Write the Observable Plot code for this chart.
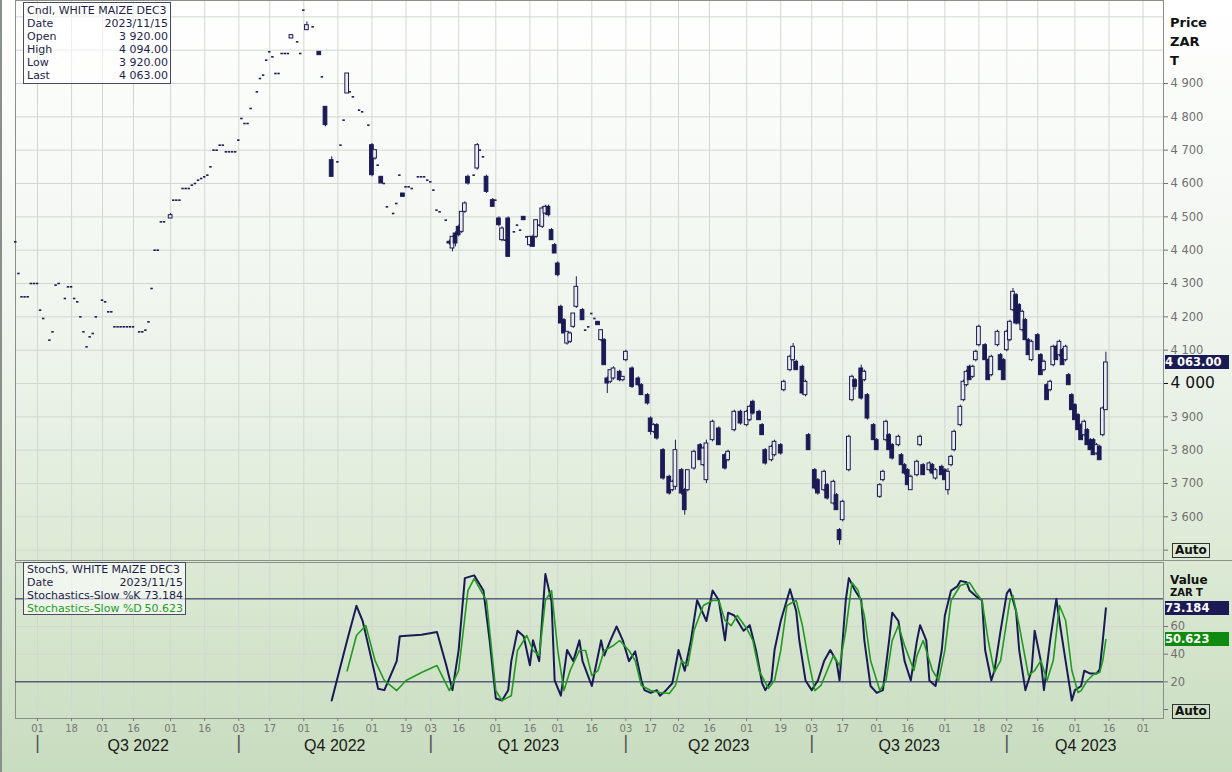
<!DOCTYPE html>
<html><head><meta charset="utf-8">
<script src="https://cdn.jsdelivr.net/npm/d3@7"></script>
<script src="https://cdn.jsdelivr.net/npm/@observablehq/plot@0.6"></script>
<style>
html,body{margin:0;padding:0;}
body{width:1232px;height:772px;overflow:hidden;background:linear-gradient(to bottom,#ffffff 0%,#eef4ec 45%,#dcead5 72%,#c8dcbf 100%);font-family:"DejaVu Sans",sans-serif;}
#wrap{position:relative;width:1232px;height:772px;}
#wrap svg{display:block;}
.box{position:absolute;border:1px solid #4a4a62;background:rgba(255,255,255,0.6);font-size:11px;line-height:13px;color:#1e1e4a;padding:0 2px 0 3px;box-sizing:border-box;}
.row{display:flex;justify-content:space-between;white-space:nowrap;}
.tag{position:absolute;left:1165px;width:64px;height:14px;color:#fff;font-weight:bold;font-size:11.5px;line-height:14px;white-space:nowrap;overflow:hidden;}
.lab{position:absolute;left:1170px;font-weight:bold;font-size:13px;line-height:19px;color:#111;}
.auto{position:absolute;border:1px solid #333;font-weight:bold;font-size:12px;line-height:13px;padding:0 2px;color:#111;}
.line{position:absolute;background:#8a8f8a;}
</style></head><body><div id="wrap"></div>
<script>
const NAVY = "#1a1a55";
const GREEN = "#229922";

// [day, open, high, low, close]  or [day, price] when open=high=low=close
const candles = [
[-7,4425],[-6,4330],[-5,4260],[-4,4260],[-3,4260],[-2,4300],[-1,4300],[0,4300],[1,4220],[2,4195],[4,4130],[5,4155],[6,4295],[7,4300],[9,4255],[10,4290],[11,4290],[12,4255],[13,4245],[14,4200],[15,4155],[16,4110],[17,4140],[18,4150],[19,4200],[21,4250],[22,4245],[23,4215],[24,4215],[25,4170],[26,4170],[27,4170],[28,4170],[29,4170],[30,4170],[31,4170],[33,4155],[34,4155],[35,4160],[36,4185],[37,4285],[38,4400],[39,4400],[40,4485],[41,4485],[43,4495,4510,4495,4505],[44,4550],[45,4550],[46,4550],[47,4585],[48,4585],[49,4585],[50,4595],[51,4600],[52,4610],[53,4615],[54,4620],[55,4625],[56,4650],[57,4700],[58,4700],[59,4715],[60,4715],[61,4695],[62,4695],[63,4695],[64,4695],[65,4730],[66,4795],[67,4780],[68,4780],[69,4825],[71,4875],[72,4915],[73,4925],[74,4970],[75,4995],[76,4980],[77,4930],[78,4930],[79,4990],[80,4990],[81,4990],[82,5035,5045,5035,5045],[84,5025],[85,4990],[86,5120],[87,5060,5085,5060,5075],[89,5070],[91,4995,4995,4985,4985],[92,4920],[93,4830,4830,4770,4775],[95,4670,4680,4620,4620],[97,4665],[98,4715],[99,4790],[100,4870,4930,4870,4930],[101,4875],[102,4860],[104,4820],[105,4815],[107,4775],[108,4715,4720,4620,4625],[109,4675,4700,4670,4700],[110,4655],[111,4620,4620,4600,4600],[112,4600],[113,4530],[115,4510],[116,4540],[117,4625],[118,4570,4570,4560,4560],[119,4590],[120,4590],[121,4585],[123,4620],[124,4620],[125,4620],[126,4610],[127,4605],[128,4580],[129,4520],[130,4515],[132,4490],[133,4425,4430,4415,4420],[134,4405,4440,4395,4440],[135,4450,4455,4410,4420],[136,4470,4475,4440,4445],[137,4455,4515,4450,4515],[138,4515,4545,4510,4540],[139,4620,4625,4595,4600],[141,4625],[142,4645,4720,4640,4715],[143,4700],[144,4680],[145,4620,4625,4570,4575],[147,4550,4555,4530,4530],[148,4550],[149,4495,4500,4470,4475],[150,4430,4470,4425,4465],[151,4430],[152,4495,4500,4380,4380],[154,4455],[155,4475],[156,4460],[157,4500,4500,4490,4490],[158,4440],[159,4415,4440,4410,4440],[160,4440,4445,4410,4410],[161,4440,4490,4435,4490],[162,4475],[163,4470,4530,4465,4525],[164,4510,4535,4505,4530],[165,4530,4535,4500,4505],[166,4460,4465,4430,4430],[167,4415,4420,4390,4390],[168,4360,4365,4320,4325],[169,4230,4235,4180,4180],[170,4190,4195,4150,4150],[171,4120,4155,4115,4155],[172,4125,4155,4120,4150],[173,4170,4210,4165,4210],[174,4230,4320,4225,4290],[176,4220,4225,4190,4190],[177,4160],[178,4170],[179,4210],[180,4195],[181,4185,4185,4175,4175],[182,4130,4160,4125,4160],[183,4130,4135,4055,4055],[184,4015,4020,3970,4000],[185,4005,4040,4000,4040],
[186,4015,4050,4010,4045],[188,4035,4040,4005,4010],[189,4010,4020,4005,4020],[190,4070,4100,4065,4095],[192,4045,4050,3985,3990],[194,4015,4020,3990,3995],[195,3995,4000,3965,3965],[197,3965,3970,3935,3940],[198,3895,3900,3845,3855],[199,3855,3880,3850,3875],[200,3875,3880,3830,3835],[202,3800,3805,3710,3715],[204,3720,3725,3665,3670],[205,3680,3710,3675,3705],[206,3690,3830,3680,3800],[208,3740,3745,3665,3670],[209,3680,3685,3605,3620],[210,3680,3740,3675,3740],[212,3745,3800,3740,3795],[214,3815,3820,3770,3770],[215,3755,3810,3750,3805],[216,3710,3830,3700,3820],[218,3830,3890,3825,3885],[220,3865,3870,3815,3815],[222,3785,3790,3740,3745],[223,3770,3800,3765,3795],[225,3860,3920,3855,3915],[227,3915,3920,3875,3880],[229,3875,3920,3870,3915],[230,3890,3935,3885,3930],[231,3945,3950,3905,3910],[233,3915,3920,3890,3890],[234,3875,3880,3845,3845],[235,3800,3805,3755,3760],[237,3770,3815,3765,3810],[238,3785,3830,3780,3825],[240,3815,3820,3785,3790],[241,3980,4010,3975,4005],[243,4040,4085,4035,4080],[244,4070,4120,4065,4110],[245,4065,4070,4040,4040],[247,4050,4055,3965,3970],[248,3965,4010,3960,4005],[249,3845,3850,3800,3800],[251,3740,3745,3680,3685],[252,3710,3715,3665,3670],[254,3680,3740,3675,3735],[255,3695,3700,3650,3655],[257,3640,3710,3635,3705],[258,3665,3670,3620,3620],[259,3560,3565,3515,3530],[260,3590,3650,3585,3645],[262,3740,3845,3735,3840],[263,3950,4025,3945,4020],[264,4010,4015,3980,3990],[266,4045,4055,3950,3955],[267,4010,4040,4005,4035],[268,3965,3970,3890,3895],[270,3875,3880,3830,3830],[271,3830,3835,3800,3800],[272,3660,3700,3655,3695],[273,3710,3740,3705,3735],[274,3830,3890,3825,3885],[275,3845,3850,3800,3800],[276,3815,3820,3770,3775],[278,3815,3845,3810,3840],[279,3785,3790,3755,3755],[280,3755,3760,3725,3730],[281,3740,3745,3695,3695],[282,3680,3725,3680,3720],[284,3725,3770,3720,3765],[285,3815,3845,3810,3840],[286,3755,3760,3725,3725],[288,3740,3765,3735,3760],[289,3755,3760,3725,3730],[290,3715,3745,3710,3740],[292,3750,3755,3725,3725],[293,3740,3745,3710,3710],[294,3680,3745,3665,3735],[295,3755,3785,3750,3780],[296,3800,3860,3795,3855],[298,3875,3935,3870,3930],[299,3950,4010,3945,4005],[300,3995,4040,3990,4035],[301,4050,4055,4010,4010],[302,4020,4055,4015,4050],[303,4070,4100,4065,4095],[304,4115,4175,4110,4170],[306,4115,4120,4070,4070],[307,4070,4075,4010,4010],[308,4025,4085,4020,4080],[310,4115,4160,4110,4155],[311,4085,4090,4040,4040],[312,4070,4075,4010,4010],[313,4100,4160,4095,4155],[314,4130,4190,4125,4185],[315,4220,4285,4215,4275],[316,4265,4270,4175,4180],[317,4235,4240,4175,4180],[318,4160,4220,4155,4215],[319,4190,4195,4130,4130],[320,4130,4135,4085,4085],[321,4070,4130,4065,4125],[323,4145,4150,4100,4100],[324,4085,4090,4025,4025],[325,4040,4070,4035,4065],[326,3995,4000,3950,3950],[327,3980,4010,3975,4005],[328,4055,4115,4050,4110],[329,4110,4115,4070,4070],[330,4085,4130,4080,4125],[331,4100,4105,4055,4055],[332,4070,4115,4065,4110],[333,4025,4030,3995,3995],[334,3965,3970,3920,3920],[335,3935,3940,3890,3890],[336,3905,3910,3860,3860],[337,3875,3880,3830,3830],[338,3845,3890,3840,3885],[339,3860,3865,3815,3815],[340,3830,3835,3800,3800],[341,3830,3835,3785,3785],[342,3790,3820,3785,3815],[343,3810,3815,3770,3770],[344,3845,3930,3840,3925],[345,3920,4094,3920,4063]
];

// Stochastics-Slow %K and %D: [day, value]
const stochK = [[95,6.5],[100,50],[103,75],[105,64],[108,35],[110,15],[112,14],[116,35],[117,53],[124,54],[129,56],[132,32],[134,14],[136,43],[138,95],[141,97],[144,86],[146,50],[148,8],[150,6.5],[152,14],[153,35],[155,57],[157,53],[159,32],[160,50],[162,35],[164,98],[166,78],[167,21],[169,10],[171,43],[173,35],[175,50],[176,35],[179,17],[180,28],[182,50],[183,39],[185,50],[187,60],[189,50],[191,35],[193,42],[195,21],[196,14],[198,12],[200,14],[201,10],[203,14],[205,19],[207,43],[209,28],[211,50],[213,79],[216,64],[218,86],[220,79],[222,50],[223,70],[225,68],[228,57],[230,61],[232,43],[234,19],[235,14],[237,21],[238,43],[240,64],[243,87],[245,71],[246,50],[248,21],[250,14],[252,21],[254,35],[256,43],[258,35],[259,21],[261,79],[262,95],[264,86],[266,79],[267,50],[269,17],[271,12],[273,14],[275,50],[276,70],[278,64],[280,35],[282,21],[284,50],[285,61],[287,50],[288,21],[290,17],[292,43],[293,68],[295,86],[297,89],[298,93],[300,92],[301,86],[303,82],[305,79],[306,43],[308,21],[309,28],[311,57],[313,84],[314,87],[316,71],[317,43],[319,14],[321,28],[322,57],[324,35],[325,14],[327,50],[329,80],[330,64],[332,35],[334,6.5],[335,14],[337,17],[338,28],[340,26],[342,26],[343,29],[344,50],[345,73.184]];
const stochD = [[100,28],[103,53.5],[106,60.7],[109,35.4],[112,21],[116,13.7],[119,21],[124,26.8],[129,31.8],[133,13.7],[136,28.2],[139,86],[141,94.7],[145,78.8],[148,13.7],[150,6.5],[153,10],[155,42.7],[158,53.5],[160,42.7],[162,39],[164,78.8],[166,86],[168,42.7],[170,13.7],[172,28.2],[175,42.7],[177,42.7],[179,24.6],[181,28.2],[183,42.7],[186,46.3],[188,49.9],[191,42.7],[193,35.4],[195,17.4],[198,13.7],[201,12.3],[204,11.6],[206,17.4],[208,35.4],[210,31.8],[212,57.1],[215,75.2],[218,78.8],[220,78.8],[222,64.4],[224,60.7],[226,68],[229,58.6],[231,49.9],[233,28.2],[236,15.2],[238,21],[240,42.7],[242,75.2],[245,78.8],[247,60.7],[249,35.4],[251,13.7],[253,17.4],[255,28.2],[257,39],[259,31.8],[261,57.1],[263,91.8],[265,86],[267,68],[269,35.4],[272,13.7],[274,21],[276,49.9],[278,60.7],[280,46.3],[283,28.2],[284,39],[286,49.9],[289,28.2],[291,21],[293,42.7],[295,78.8],[298,89.7],[301,91.8],[303,84.6],[305,78.8],[307,49.9],[309,26.8],[311,35.4],[314,78.8],[315,82.4],[317,60.7],[320,24.6],[322,28.2],[324,35.4],[326,21],[328,35.4],[330,75.2],[332,64.4],[334,28.2],[336,12.3],[337,13.7],[339,21],[341,25.3],[343,26.8],[344,35.4],[345,50.623]];

// axis ticks (trading-day index from 2022/07/01)
const tickDays   = [0,11,21,31,43,54,65,75,86,97,108,119,127,136,148,159,168,179,190,198,207,217,229,240,250,260,271,281,293,304,313,323,335,346,357];
const tickLabels = ["01","18","01","16","01","16","03","17","01","16","01","19","03","16","01","16","01","16","03","17","02","16","01","19","03","17","01","16","01","18","02","16","01","16","01"];
const quarterStart = [0,65,127,190,250,313];
const quarterEnd   = [65,127,190,250,313,364];
const quarterLabels = ["Q3 2022","Q4 2022","Q1 2023","Q2 2023","Q3 2023","Q4 2023"];
const priceTicks = [3500,3600,3700,3800,3900,4000,4100,4200,4300,4400,4500,4600,4700,4800,4900,5000,5100];
const stochTicks = [0,20,40,60];
const stochBands = [20,80];

const last = {date:"2023/11/15", open:3920, high:4094, low:3920, close:4063, k:73.184, d:50.623};

const rows = candles.map(r => r.length === 2
  ? {d:r[0], o:r[1], h:r[1], l:r[1], c:r[1]}
  : {d:r[0], o:r[1], h:r[2], l:r[3], c:r[4]});
const dayLabel = new Map(tickDays.map((d,i)=>[d,tickLabels[i]]));
const qMid = quarterStart.map((s,i)=>(s+quarterEnd[i])/2);
const qLabel = new Map(qMid.map((m,i)=>[m,quarterLabels[i]]));
const fmt = d3.formatLocale({thousands:" ", grouping:[3], decimal:"."}).format(",");
const xDomain = [-7.1, 363.6];
const GRID = "#d2d8d1";

const upper = Plot.plot({
  width:1232, height:560, marginLeft:15, marginRight:69, marginTop:0, marginBottom:0,
  style:{background:"transparent", fontFamily:"DejaVu Sans", overflow:"visible"},
  x:{domain:xDomain, axis:null},
  y:{domain:[3469,5149], axis:null},
  marks:[
    Plot.ruleX(tickDays, {stroke:GRID}),
    Plot.ruleY(priceTicks, {stroke:GRID}),
    Plot.frame({stroke:"#8a8f8a"}),
    Plot.ruleX(rows.filter(r=>r.h>r.l), {x:"d", y1:"l", y2:"h", stroke:NAVY, strokeWidth:1}),
    Plot.rect(rows.filter(r=>r.o!==r.c), {x1:r=>r.d-0.6, x2:r=>r.d+0.6, y1:"o", y2:"c",
      fill:r=>r.c>r.o?"#eceeee":NAVY, stroke:NAVY, strokeWidth:1}),
    Plot.ruleY(rows.filter(r=>r.o===r.c), {y:"c", x1:r=>r.d-0.4, x2:r=>r.d+0.4, stroke:NAVY, strokeWidth:1.6}),
    Plot.axisY(priceTicks.filter(v=>v!==4000 && v<5000), {anchor:"right", tickSize:4, tickPadding:3,
      fontSize:11.5, color:"#707070", tickFormat:v=>v===3500?"":fmt(v)}),
    Plot.axisY([4000], {anchor:"right", tickSize:4, tickPadding:3, fontSize:15.5, color:"#111", tickFormat:fmt})
  ]
});

const lower = Plot.plot({
  width:1232, height:212, marginLeft:15, marginRight:69, marginTop:2, marginBottom:54,
  style:{background:"transparent", fontFamily:"DejaVu Sans", overflow:"visible"},
  x:{domain:xDomain, axis:null},
  y:{domain:[-6.5,106.3], axis:null},
  marks:[
    Plot.ruleX(tickDays, {stroke:GRID}),
    Plot.ruleY([40,60], {stroke:GRID}),
    Plot.frame({stroke:"#8a8f8a"}),
    Plot.ruleY(stochBands, {stroke:NAVY, strokeWidth:1}),
    Plot.line(stochK, {x:p=>p[0], y:p=>p[1], stroke:NAVY, strokeWidth:2}),
    Plot.line(stochD, {x:p=>p[0], y:p=>p[1], stroke:GREEN, strokeWidth:1.6}),
    Plot.axisY(stochTicks, {anchor:"right", tickSize:4, tickPadding:3, fontSize:11.5, color:"#707070",
      tickFormat:v=>v===0?"":String(v)}),
    Plot.axisX(tickDays, {anchor:"bottom", tickSize:3, tickPadding:3, fontSize:10, color:"#777",
      tickFormat:d=>dayLabel.get(d)}),
    Plot.axisX(qMid, {anchor:"bottom", tickSize:0, tickPadding:21, fontSize:16, fontFamily:"Liberation Sans",
      color:"#1a1a1a", tickFormat:d=>qLabel.get(d)}),
    Plot.axisX(quarterStart, {anchor:"bottom", tickSize:0, tickPadding:18, fontSize:18, color:"#555",
      tickFormat:()=>"|"})
  ]
});

const wrap = document.getElementById("wrap");
wrap.appendChild(upper);
wrap.appendChild(lower);

function add(html){ wrap.insertAdjacentHTML("beforeend", html); }
const money = v => d3.format(",.2f")(v).replace(",", " ");
add(`<div class="line" style="left:0;top:0;width:2px;height:772px;"></div>`);
add(`<div class="line" style="left:15px;top:560px;width:1217px;height:1px;"></div>`);
add(`<div class="box" style="left:23px;top:2px;width:148px;height:82px;padding-top:1px;">
 <div class="row"><span>Cndl, WHITE MAIZE DEC3</span></div>
 <div class="row"><span>Date</span><span>${last.date}</span></div>
 <div class="row"><span>Open</span><span>${money(last.open)}</span></div>
 <div class="row"><span>High</span><span>${money(last.high)}</span></div>
 <div class="row"><span>Low</span><span>${money(last.low)}</span></div>
 <div class="row"><span>Last</span><span>${money(last.close)}</span></div></div>`);
add(`<div class="box" style="left:23px;top:562px;width:163px;height:53px;padding-top:0px;">
 <div class="row"><span>StochS, WHITE MAIZE DEC3</span></div>
 <div class="row"><span>Date</span><span>${last.date}</span></div>
 <div class="row"><span>Stochastics-Slow %K</span><span>${last.k}</span></div>
 <div class="row" style="color:#1f9a1f"><span>Stochastics-Slow %D</span><span>${last.d}</span></div></div>`);
add(`<div class="lab" style="top:13px;">Price</div><div class="lab" style="top:32px;">ZAR</div><div class="lab" style="top:51px;">T</div>`);
add(`<div class="lab" style="top:573px;font-size:12px;line-height:14px;">Value</div>
     <div class="lab" style="top:587px;font-size:10px;line-height:12px;">ZAR</div>
     <div class="lab" style="top:587px;left:1196px;font-size:10px;line-height:12px;">T</div>`);
const yU = upper.scale("y"), yL = lower.scale("y");
add(`<div class="tag" style="background:${NAVY};top:${yU.apply(last.close)-7}px;">${money(last.close)}</div>`);
add(`<div class="tag" style="background:${NAVY};top:${560+yL.apply(last.k)-7}px;">${last.k}</div>`);
add(`<div class="tag" style="background:#0e8a0e;top:${560+yL.apply(last.d)-7}px;">${last.d}</div>`);
add(`<div class="auto" style="left:1172px;top:543px;">Auto</div>`);
add(`<div class="auto" style="left:1172px;top:704px;">Auto</div>`);
</script></body></html>
